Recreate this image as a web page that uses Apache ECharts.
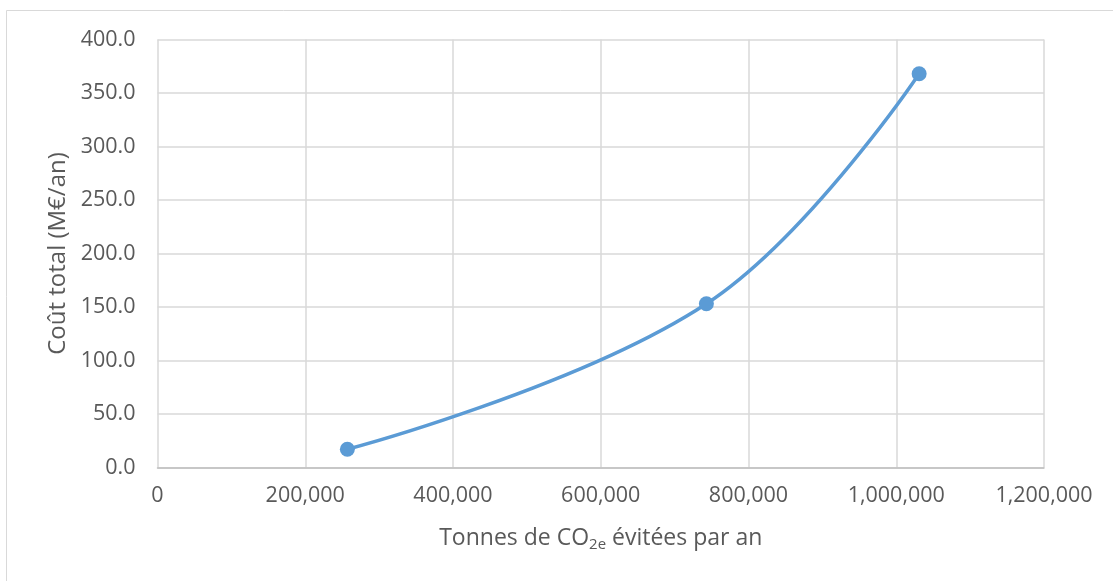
<!DOCTYPE html>
<html>
<head>
<meta charset="utf-8">
<script src="https://cdn.jsdelivr.net/npm/echarts@6/dist/echarts.min.js"></script>
<style>
  html, body { margin: 0; padding: 0; background: #ffffff; }
  #chart { width: 1113px; height: 581px; }
</style>
</head>
<body>
<div id="chart"></div>
<script>
// Tonnes of CO2e avoided per year vs. total cost (M€/year)
const tonnesEvitees = [257000, 743000, 1031000];
const coutTotal = [17.0, 153.0, 368.0];
const xTicks = { min: 0, max: 1200000, step: 200000 };
const yTicks = { min: 0, max: 400, step: 50 };

const points = tonnesEvitees.map((t, i) => [t, coutTotal[i]]);

const FONT = '"Open Sans", "Liberation Sans", sans-serif';
const TEXT = '#595959';

const chart = echarts.init(document.getElementById('chart'), null, { renderer: 'canvas' });

chart.setOption({
  animation: false,
  backgroundColor: '#ffffff',
  textStyle: { fontFamily: FONT },
  graphic: [{
    type: 'rect',
    shape: { x: 6.5, y: 10.5, width: 1200, height: 700 },
    style: { fill: 'none', stroke: '#d9d9d9', lineWidth: 1 },
    silent: true
  }],
  grid: { left: 157.5, right: 69, top: 39.5, bottom: 113.5, containLabel: false },
  xAxis: {
    type: 'value',
    min: xTicks.min,
    max: xTicks.max,
    interval: xTicks.step,
    name: '{t|Tonnes de CO}{s|2e}{t| évitées par an}',
    nameLocation: 'middle',
    nameGap: 56,
    nameTextStyle: {
      rich: {
        t: { fontFamily: FONT, fontSize: 23, color: TEXT },
        s: { fontFamily: FONT, fontSize: 15, color: TEXT, padding: [14, 0, 0, 0] }
      }
    },
    axisLine: { show: true, lineStyle: { color: '#bfbfbf', width: 1.5 } },
    axisTick: { show: false },
    splitLine: { show: true, lineStyle: { color: '#d9d9d9', width: 1.5 } },
    axisLabel: {
      color: TEXT, fontSize: 21.5, fontFamily: FONT, margin: 17,
      formatter: v => v === 0 ? '0' : v.toLocaleString('en-US')
    }
  },
  yAxis: {
    type: 'value',
    min: yTicks.min,
    max: yTicks.max,
    interval: yTicks.step,
    name: 'Coût total (M€/an)',
    nameLocation: 'middle',
    nameGap: 84,
    nameTextStyle: { color: TEXT, fontSize: 24, fontFamily: FONT },
    axisLine: { show: false },
    axisTick: { show: false },
    splitLine: { show: true, lineStyle: { color: '#d9d9d9', width: 1.5 } },
    axisLabel: {
      color: TEXT, fontSize: 21.5, fontFamily: FONT, margin: 22,
      formatter: v => v.toFixed(1)
    }
  },
  series: [{
    type: 'line',
    data: points,
    smooth: 0.4,
    symbol: 'circle',
    symbolSize: 15,
    itemStyle: { color: '#5b9bd5' },
    lineStyle: { color: '#5b9bd5', width: 3.5 }
  }]
});
</script>
</body>
</html>
